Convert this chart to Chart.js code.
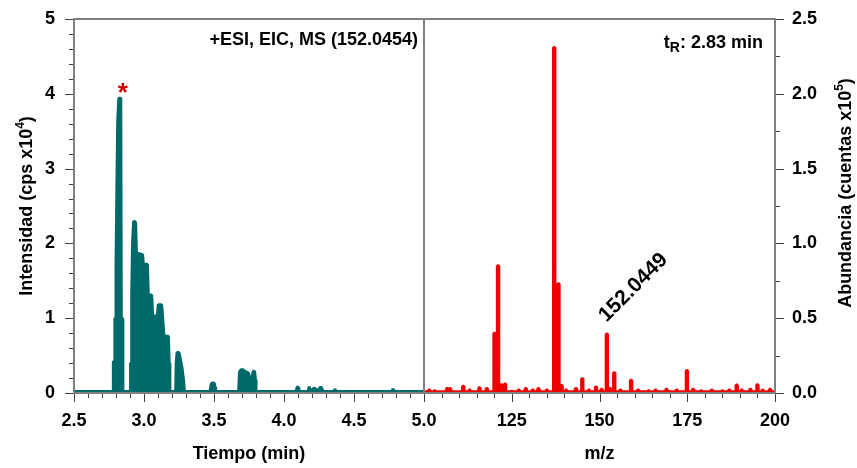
<!DOCTYPE html>
<html>
<head>
<meta charset="utf-8">
<script src="https://cdn.jsdelivr.net/npm/chart.js@4.4.1/dist/chart.umd.min.js"></script>
<style>
  html, body { margin: 0; padding: 0; background: #fff; }
  #wrap { position: relative; width: 857px; height: 468px; }
  #wrap canvas { position: absolute; left: 0; top: 0; }
</style>
</head>
<body>
<div id="wrap">
  <canvas id="eicChart" width="857" height="468"></canvas>
  <canvas id="msChart" width="857" height="468"></canvas>
</div>
<script>
// Left panel: extracted ion chromatogram, intensity in cps x10^4
const timeMin = [
  2.50, 2.781, 2.781, 2.791, 2.792, 2.798, 2.800, 2.806, 2.812, 2.820, 2.834, 2.838, 2.847, 2.849,
  2.903, 2.904, 2.910, 2.912, 2.918, 2.926, 2.940, 2.946, 2.951, 2.990, 2.995, 3.024, 3.031, 3.055,
  3.062, 3.095, 3.102, 3.126, 3.143, 3.174, 3.180, 3.185,
  3.226, 3.230, 3.236, 3.250, 3.262, 3.272, 3.282, 3.289,
  3.472, 3.480, 3.490, 3.502, 3.508, 3.512,
  3.676, 3.682, 3.692, 3.708, 3.721, 3.745, 3.762, 3.781, 3.790, 3.796, 3.800,
  4.086, 4.094, 4.100, 4.106, 4.172, 4.180, 4.186, 4.200, 4.212, 4.222, 4.232, 4.245, 4.262, 4.270, 4.280,
  4.356, 4.364, 4.372, 4.770, 4.779, 4.788, 5.00
];
const intensity = [
  0.02, 0.02, 0.42, 0.42, 1.0, 1.0, 1.69, 2.71, 3.63, 3.94, 3.94, 1.0, 1.0, 0.02,
  0.02, 0.40, 0.40, 1.30, 2.0, 2.30, 2.28, 1.88, 1.87, 1.85, 1.72, 1.72, 1.31, 1.31,
  1.03, 1.03, 1.18, 1.18, 0.76, 0.76, 0.40, 0.02,
  0.02, 0.40, 0.54, 0.54, 0.43, 0.33, 0.18, 0.02,
  0.02, 0.12, 0.135, 0.13, 0.08, 0.02,
  0.02, 0.28, 0.31, 0.31, 0.29, 0.27, 0.15, 0.29, 0.29, 0.18, 0.02,
  0.02, 0.08, 0.08, 0.02, 0.02, 0.085, 0.05, 0.03, 0.06, 0.065, 0.03, 0.04, 0.08, 0.06, 0.02,
  0.02, 0.05, 0.02, 0.02, 0.055, 0.02, 0.02
];
const markTime = 2.848;      // red asterisk over the main peak
const markIntensity = 4.10;
const timeTicks = [2.5, 3.0, 3.5, 4.0, 4.5, 5.0];
const intensityTicks = [0, 1, 2, 3, 4, 5];

// Right panel: mass spectrum at tR 2.83 min, abundance in counts x10^5
const mzValues = [
  101.5, 103, 106.6, 107.4, 111.2, 113, 115.8, 117.9, 120.1, 121.1, 122.1, 123.1, 125, 127,
  129, 131, 132.6, 135, 137.1, 138.3, 139.2, 140.5, 143.3, 145.1, 147, 149, 150.6, 152.1,
  153, 154.2, 156, 159, 161, 164, 166, 169.1, 172, 174.9, 176.7, 179, 182, 185, 187, 189.1,
  190.5, 193, 195, 196.5, 198.6
];
const abundance = [
  0.02, 0.015, 0.03, 0.03, 0.045, 0.02, 0.035, 0.03, 0.40, 0.85, 0.055, 0.06, 0.012, 0.02,
  0.03, 0.02, 0.03, 0.02, 2.31, 0.73, 0.05, 0.02, 0.03, 0.095, 0.02, 0.04, 0.025, 0.395,
  0.03, 0.135, 0.02, 0.085, 0.02, 0.015, 0.02, 0.025, 0.02, 0.15, 0.025, 0.015, 0.02, 0.015, 0.02, 0.053,
  0.02, 0.025, 0.055, 0.02, 0.025
];
const mzBaseline = 0.008;
const mzMin = 100;
const mzMax = 200;
const mzTicks = [125, 150, 175, 200];
const abundanceTicks = [0.0, 0.5, 1.0, 1.5, 2.0, 2.5];
const labelMz = 152.0;       // where the rotated "152.0449" label starts
const labelAbundance = 0.47;

const TEAL = '#006a6a';
const RED = '#f00000';
const FRAME = '#808080';
const TICK = '#404040';
const FONT = "'Liberation Sans', Arial, sans-serif";

Chart.defaults.font.family = FONT;
Chart.defaults.font.size = 18;
Chart.defaults.font.weight = 'bold';
Chart.defaults.color = '#000';

function stickPoints(xs, ys, base, half) {
  const pts = [{ x: mzMin, y: base }];
  xs.forEach((m, i) => {
    pts.push({ x: m - half, y: base }, { x: m - half, y: ys[i] },
             { x: m + half, y: ys[i] }, { x: m + half, y: base });
  });
  pts.push({ x: mzMax, y: base });
  return pts;
}

// draws a run of text pieces (for super/subscripts); align: left | center | right
function drawRich(ctx, parts, x, y, align) {
  let total = 0;
  parts.forEach(p => {
    ctx.font = `bold ${p.size}px ${FONT}`;
    p.w = ctx.measureText(p.t).width;
    total += p.w;
  });
  let cx = align === 'center' ? x - total / 2 : align === 'right' ? x - total : x;
  ctx.textAlign = 'left';
  ctx.textBaseline = 'alphabetic';
  parts.forEach(p => {
    ctx.font = `bold ${p.size}px ${FONT}`;
    ctx.fillText(p.t, cx, y + (p.dy || 0));
    cx += p.w;
  });
}

// frame round the plot area plus major/minor tick marks
const frameTicks = {
  id: 'frameTicks',
  afterDatasetsDraw(chart, args, opts) {
    const ctx = chart.ctx, a = chart.chartArea;
    const xs = chart.scales.x, ys = chart.scales.y;
    ctx.save();
    ctx.strokeStyle = FRAME;
    ctx.lineWidth = 2;
    ctx.strokeRect(a.left, a.top, a.right - a.left, a.bottom - a.top);

    ctx.strokeStyle = TICK;
    ctx.lineWidth = 1;
    ctx.beginPath();
    const nx = Math.round((xs.max - xs.min) / opts.xMinor);
    for (let i = 0; i <= nx; i++) {
      const v = xs.min + i * opts.xMinor;
      const major = Math.abs(v / opts.xMajor - Math.round(v / opts.xMajor)) < 1e-6;
      const px = Math.round(xs.getPixelForValue(v)) + 0.5;
      ctx.moveTo(px, a.bottom + 1);
      ctx.lineTo(px, a.bottom + (major ? 9 : 5));
    }
    const ny = Math.round((ys.max - ys.min) / opts.yMinor);
    for (let i = 0; i <= ny; i++) {
      const v = ys.min + i * opts.yMinor;
      const major = Math.abs(v / opts.yMajor - Math.round(v / opts.yMajor)) < 1e-6;
      const py = Math.round(ys.getPixelForValue(v)) + 0.5;
      const len = major ? 9 : 5;
      if (opts.ySide === 'left') {
        ctx.moveTo(a.left - 1, py);
        ctx.lineTo(a.left - len, py);
      } else {
        ctx.moveTo(a.right + 1, py);
        ctx.lineTo(a.right + len, py);
      }
    }
    ctx.stroke();
    ctx.restore();
  }
};

const eicText = {
  id: 'eicText',
  afterDraw(chart) {
    const ctx = chart.ctx, a = chart.chartArea;
    const xs = chart.scales.x, ys = chart.scales.y;
    ctx.save();
    ctx.fillStyle = '#000';
    drawRich(ctx, [{ t: '+ESI, EIC, MS (152.0454)', size: 18 }], a.right - 6, a.top + 26, 'right');
    drawRich(ctx, [{ t: 'Tiempo (min)', size: 18 }], (a.left + a.right) / 2, 459, 'center');

    ctx.save();
    ctx.translate(32, (a.top + a.bottom) / 2);
    ctx.rotate(-Math.PI / 2);
    drawRich(ctx, [{ t: 'Intensidad (cps x10', size: 18 }, { t: '4', size: 12, dy: -8 }, { t: ')', size: 18 }], 0, 0, 'center');
    ctx.restore();

    // asterisk marking the peak
    ctx.fillStyle = '#d00000';
    ctx.font = `bold 26px ${FONT}`;
    ctx.textAlign = 'center';
    ctx.textBaseline = 'alphabetic';
    ctx.fillText('*', xs.getPixelForValue(markTime), ys.getPixelForValue(markIntensity) + 15);
    ctx.restore();
  }
};

const msText = {
  id: 'msText',
  afterDraw(chart) {
    const ctx = chart.ctx, a = chart.chartArea;
    const xs = chart.scales.x, ys = chart.scales.y;
    ctx.save();
    ctx.fillStyle = '#000';
    drawRich(ctx, [{ t: 't', size: 18 }, { t: 'R', size: 14, dy: 4 }, { t: ': 2.83 min', size: 18 }], a.right - 12, a.top + 29, 'right');
    drawRich(ctx, [{ t: 'm/z', size: 18 }], (a.left + a.right) / 2, 459, 'center');

    ctx.save();
    ctx.translate(851, 193);
    ctx.rotate(-Math.PI / 2);
    drawRich(ctx, [{ t: 'Abundancia (cuentas x10', size: 18 }, { t: '5', size: 12, dy: -8 }, { t: ')', size: 18 }], 0, 0, 'center');
    ctx.restore();

    ctx.save();
    ctx.translate(xs.getPixelForValue(labelMz), ys.getPixelForValue(labelAbundance));
    ctx.rotate(-Math.PI / 4);
    ctx.font = `bold 21px ${FONT}`;
    ctx.textAlign = 'left';
    ctx.textBaseline = 'alphabetic';
    ctx.fillText('152.0449', 0, 0);
    ctx.restore();
    ctx.restore();
  }
};

const fitX = s => { s.height = 75; s.paddingLeft = 0; s.paddingRight = 0; };

const eicChart = new Chart(document.getElementById('eicChart'), {
  type: 'line',
  data: {
    datasets: [{
      data: timeMin.map((t, i) => ({ x: t, y: intensity[i] })),
      borderColor: TEAL,
      backgroundColor: TEAL,
      borderWidth: 3,
      fill: 'origin',
      pointRadius: 0,
      tension: 0,
      borderJoinStyle: 'bevel'
    }]
  },
  options: {
    responsive: false,
    animation: false,
    layout: { padding: { top: 19, right: 433, left: 0, bottom: 0 } },
    plugins: {
      legend: { display: false },
      tooltip: { enabled: false },
      frameTicks: { xMajor: 0.5, xMinor: 0.1, yMajor: 1, yMinor: 0.2, ySide: 'left' }
    },
    scales: {
      x: {
        type: 'linear', min: 2.5, max: 5.0,
        grid: { display: false, drawTicks: false }, border: { display: false },
        afterBuildTicks: s => { s.ticks = timeTicks.map(v => ({ value: v })); },
        afterFit: fitX,
        ticks: { padding: 17, maxRotation: 0, autoSkip: false, callback: v => v.toFixed(1) }
      },
      y: {
        min: 0, max: 5,
        grid: { display: false, drawTicks: false }, border: { display: false },
        afterBuildTicks: s => { s.ticks = intensityTicks.map(v => ({ value: v })); },
        afterFit: s => { s.width = 74; s.paddingTop = 0; s.paddingBottom = 0; },
        ticks: { padding: 19, callback: v => String(v) }
      }
    }
  },
  plugins: [frameTicks, eicText]
});

const msChart = new Chart(document.getElementById('msChart'), {
  type: 'line',
  data: {
    datasets: [{
      data: stickPoints(mzValues, abundance, mzBaseline, 0.2),
      borderColor: RED,
      borderWidth: 3,
      fill: false,
      pointRadius: 0,
      tension: 0,
      borderJoinStyle: 'bevel'
    }]
  },
  options: {
    responsive: false,
    animation: false,
    layout: { padding: { top: 19, left: 424, right: 0, bottom: 0 } },
    plugins: {
      legend: { display: false },
      tooltip: { enabled: false },
      frameTicks: { xMajor: 25, xMinor: 5, yMajor: 0.5, yMinor: 0.25, ySide: 'right' }
    },
    scales: {
      x: {
        type: 'linear', min: mzMin, max: mzMax,
        grid: { display: false, drawTicks: false }, border: { display: false },
        afterBuildTicks: s => { s.ticks = mzTicks.map(v => ({ value: v })); },
        afterFit: fitX,
        ticks: { padding: 17, maxRotation: 0, autoSkip: false, callback: v => String(v) }
      },
      y: {
        position: 'right', min: 0, max: 2.5,
        grid: { display: false, drawTicks: false }, border: { display: false },
        afterBuildTicks: s => { s.ticks = abundanceTicks.map(v => ({ value: v })); },
        afterFit: s => { s.width = 82; s.paddingTop = 0; s.paddingBottom = 0; },
        ticks: { padding: 17, callback: v => v.toFixed(1) }
      }
    }
  },
  plugins: [frameTicks, msText]
});
</script>
</body>
</html>
